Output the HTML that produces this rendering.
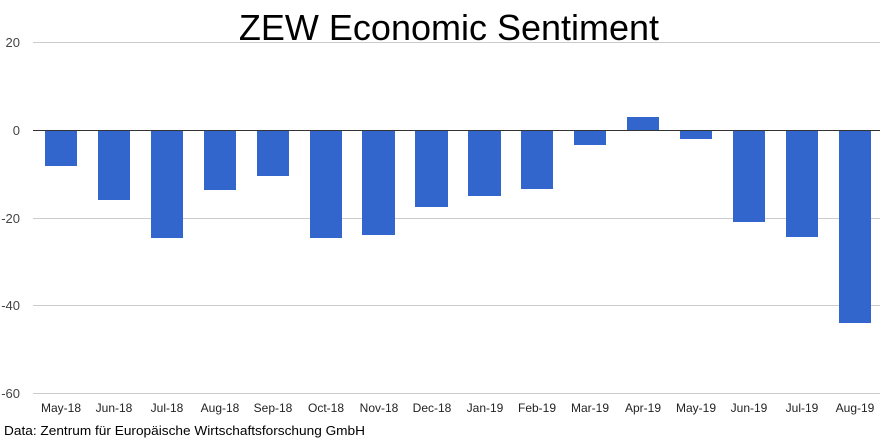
<!DOCTYPE html>
<html><head><meta charset="utf-8"><style>
html,body{margin:0;padding:0;background:#fff;}
svg{display:block;}
</style></head><body>
<svg width="891" height="440" xmlns="http://www.w3.org/2000/svg" font-family="Liberation Sans, sans-serif">
<rect width="891" height="440" fill="#fff"/>
<text x="449" y="40" text-anchor="middle" font-size="36" fill="#000">ZEW Economic Sentiment</text>
<g stroke="#cccccc" stroke-width="1">
<line x1="33" y1="42.5" x2="880" y2="42.5"/>
<line x1="33" y1="218.5" x2="880" y2="218.5"/>
<line x1="33" y1="305.5" x2="880" y2="305.5"/>
<line x1="33" y1="393.5" x2="880" y2="393.5"/>
</g>
<g font-size="13" fill="#444" text-anchor="end">
<text x="20" y="47">20</text>
<text x="20" y="135">0</text>
<text x="20" y="223">-20</text>
<text x="20" y="310">-40</text>
<text x="20" y="398">-60</text>
</g>
<g fill="#3366cc">
<rect x="45" y="130" width="32" height="36"/>
<rect x="98" y="130" width="32" height="70"/>
<rect x="151" y="130" width="32" height="108"/>
<rect x="204" y="130" width="32" height="60"/>
<rect x="257" y="130" width="32" height="46"/>
<rect x="310" y="130" width="32" height="108"/>
<rect x="362" y="130" width="33" height="105"/>
<rect x="415" y="130" width="33" height="77"/>
<rect x="468" y="130" width="33" height="66"/>
<rect x="521" y="130" width="32" height="59"/>
<rect x="574" y="130" width="32" height="15"/>
<rect x="627" y="117" width="32" height="13"/>
<rect x="680" y="130" width="32" height="9"/>
<rect x="733" y="130" width="32" height="92"/>
<rect x="786" y="130" width="32" height="107"/>
<rect x="839" y="130" width="32" height="193"/>
</g>
<line x1="33" y1="130.5" x2="880" y2="130.5" stroke="#333" stroke-width="1"/>
<g font-size="12" fill="#222" text-anchor="middle">
<text x="61" y="412">May-18</text>
<text x="114" y="412">Jun-18</text>
<text x="167" y="412">Jul-18</text>
<text x="220" y="412">Aug-18</text>
<text x="273" y="412">Sep-18</text>
<text x="326" y="412">Oct-18</text>
<text x="379" y="412">Nov-18</text>
<text x="432" y="412">Dec-18</text>
<text x="485" y="412">Jan-19</text>
<text x="537" y="412">Feb-19</text>
<text x="590" y="412">Mar-19</text>
<text x="643" y="412">Apr-19</text>
<text x="696" y="412">May-19</text>
<text x="749" y="412">Jun-19</text>
<text x="802" y="412">Jul-19</text>
<text x="855" y="412">Aug-19</text>
</g>
<text x="4" y="435" font-size="13" fill="#000" textLength="361" lengthAdjust="spacingAndGlyphs">Data: Zentrum für Europäische Wirtschaftsforschung GmbH</text>
</svg>
</body></html>
